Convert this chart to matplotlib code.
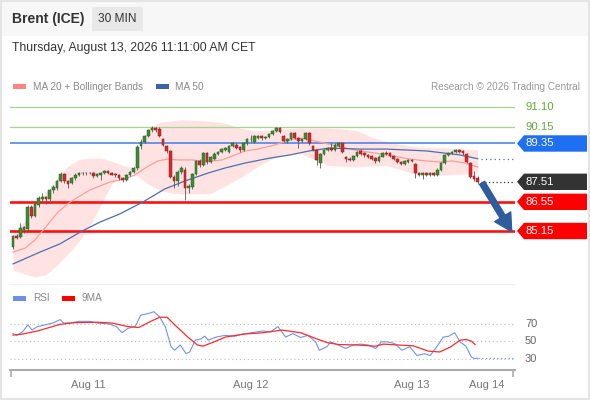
import numpy as np
import matplotlib
matplotlib.use("Agg")
import matplotlib.pyplot as plt
from matplotlib.patches import Rectangle, Polygon
from matplotlib.lines import Line2D
from matplotlib.transforms import blended_transform_factory

plt.rcParams['font.family'] = ['Liberation Sans', 'DejaVu Sans']

# ---------------- data ----------------
title = "Brent (ICE)"
timeframe = "30 MIN"
date_text = "Thursday, August 13, 2026 11:11:00 AM CET"
credit = "Research \u00a9 2026 Trading Central"

opens = [84.40, 84.92, 84.85, 85.20, 85.25, 86.30, 85.85, 86.40, 86.70, 86.78,
         86.68, 87.10, 87.22, 87.55, 87.88, 87.55, 87.45, 87.68, 87.85, 87.92,
         87.94, 87.91, 87.94, 87.80, 87.84, 87.93, 88.02, 87.95, 87.88, 87.84,
         87.68, 87.62, 87.85, 88.00, 88.15, 89.25, 89.40, 89.70, 89.98, 90.08,
         90.05, 89.55, 89.25, 89.00, 87.75, 87.55, 88.00, 88.10, 87.20, 87.25,
         87.90, 88.50, 88.30, 88.90, 88.45, 88.62, 88.85, 88.95, 89.05, 88.95,
         89.25, 89.30, 89.18, 89.05, 89.35, 89.55, 89.42, 89.60, 89.70, 89.60,
         89.68, 89.80, 89.95, 90.10, 89.72, 89.45, 89.55, 89.85, 89.60, 89.45,
         89.55, 89.85, 89.22, 89.05, 88.40, 88.85, 89.05, 89.15, 89.05, 89.25,
         89.35, 88.70, 88.60, 88.55, 88.75, 89.00, 88.90, 88.80, 88.75, 88.65,
         88.50, 88.72, 88.90, 88.90, 88.75, 88.62, 88.45, 88.35, 88.45, 88.55,
         88.35, 87.95, 87.85, 87.92, 87.85, 87.92, 87.82, 88.10, 88.40, 88.80,
         88.90, 88.95, 89.05, 89.00, 88.85, 88.40, 87.80, 87.70]
highs = [84.98, 85.00, 85.55, 85.40, 86.40, 86.40, 86.50, 86.85, 86.95, 86.85,
         87.15, 87.35, 87.62, 88.00, 87.92, 87.60, 87.75, 87.95, 87.97, 87.98,
         87.99, 87.98, 87.98, 87.92, 87.98, 88.06, 88.06, 88.00, 87.95, 87.88,
         87.74, 87.90, 88.05, 88.22, 89.30, 89.55, 89.75, 90.05, 90.20, 90.15,
         90.12, 89.62, 89.30, 89.05, 87.85, 88.10, 88.25, 88.20, 87.40, 87.95,
         88.55, 88.60, 88.95, 88.95, 88.75, 88.92, 89.00, 89.15, 89.18, 89.30,
         89.42, 89.36, 89.22, 89.40, 89.60, 89.75, 89.75, 89.78, 89.75, 89.72,
         89.85, 90.00, 90.15, 90.15, 89.78, 89.60, 89.90, 89.90, 89.65, 89.60,
         89.90, 89.90, 89.28, 89.10, 88.90, 89.10, 89.20, 89.35, 89.35, 89.40,
         89.38, 88.75, 88.68, 88.80, 89.00, 89.10, 88.95, 88.85, 88.80, 88.70,
         88.78, 88.95, 88.98, 88.94, 88.80, 88.66, 88.50, 88.55, 88.60, 88.62,
         88.40, 88.00, 88.00, 87.98, 88.00, 87.98, 88.15, 88.45, 88.85, 88.95,
         89.00, 89.10, 89.10, 89.05, 88.90, 88.45, 88.05, 87.78]
lows = [84.30, 84.75, 84.80, 85.05, 85.15, 85.75, 85.80, 86.30, 86.55, 86.45,
        86.60, 86.95, 87.10, 87.50, 87.45, 87.20, 87.40, 87.60, 87.78, 87.86,
        87.86, 87.87, 87.70, 87.76, 87.62, 87.88, 87.88, 87.82, 87.76, 87.62,
        87.50, 87.55, 87.80, 87.95, 88.10, 89.10, 89.35, 89.65, 89.90, 89.92,
        89.65, 89.22, 88.90, 87.70, 87.20, 87.30, 87.90, 86.65, 86.95, 87.15,
        87.85, 88.20, 88.25, 88.35, 88.40, 88.55, 88.78, 88.88, 88.98, 88.90,
        89.18, 89.08, 88.95, 89.00, 89.28, 89.40, 89.38, 89.55, 89.52, 89.55,
        89.62, 89.75, 89.90, 89.85, 89.40, 89.38, 89.50, 89.55, 89.15, 89.40,
        89.50, 89.30, 89.00, 88.30, 88.15, 88.80, 89.00, 89.00, 89.00, 89.20,
        88.90, 88.45, 88.50, 88.50, 88.70, 88.80, 88.70, 88.65, 88.55, 88.42,
        88.45, 88.68, 88.80, 88.70, 88.55, 88.40, 88.30, 88.30, 88.40, 88.45,
        87.70, 87.80, 87.65, 87.80, 87.80, 87.80, 87.78, 88.05, 88.35, 88.75,
        88.85, 88.90, 88.88, 88.80, 88.40, 87.70, 87.55, 87.40]
closes = [84.92, 84.82, 85.30, 85.32, 86.30, 85.85, 86.45, 86.72, 86.78, 86.68,
          87.10, 87.25, 87.55, 87.88, 87.55, 87.42, 87.68, 87.85, 87.92, 87.94,
          87.91, 87.94, 87.80, 87.88, 87.93, 88.02, 87.95, 87.86, 87.82, 87.68,
          87.60, 87.85, 88.00, 88.15, 89.20, 89.40, 89.70, 90.00, 90.08, 89.98,
          89.72, 89.30, 89.00, 87.75, 87.55, 88.00, 88.15, 87.20, 87.30, 87.90,
          88.50, 88.30, 88.90, 88.45, 88.70, 88.85, 88.95, 89.10, 89.12, 89.25,
          89.35, 89.15, 89.05, 89.35, 89.55, 89.56, 89.70, 89.70, 89.60, 89.68,
          89.80, 89.95, 90.10, 89.90, 89.45, 89.55, 89.85, 89.60, 89.45, 89.55,
          89.85, 89.35, 89.05, 88.55, 88.85, 89.05, 89.15, 89.05, 89.30, 89.35,
          88.95, 88.60, 88.55, 88.75, 88.95, 88.85, 88.78, 88.70, 88.60, 88.50,
          88.72, 88.90, 88.86, 88.75, 88.60, 88.45, 88.35, 88.50, 88.55, 88.50,
          87.95, 87.85, 87.95, 87.85, 87.95, 87.86, 88.10, 88.40, 88.80, 88.90,
          88.95, 89.05, 88.95, 88.90, 88.45, 87.75, 87.65, 87.51]

ma20_idx = [0, 3.3, 6.0, 8.7, 12.3, 15.6, 18.3, 21.0, 23.8, 26.5, 30.6, 33.3, 36.1,
            39.6, 42.3, 45.1, 48.9, 51.6, 54.4, 57.1, 60.7, 63.4, 66.9, 71.6, 75.7,
            79.0, 82.5, 87.2, 93.4, 98.9, 103.8, 108.5, 113.1, 116.7, 120.2, 123.5, 127]
ma20_val = [84.14, 84.33, 84.72, 85.29, 86.06, 86.54, 86.83, 87.12, 87.31, 87.50,
            87.65, 87.84, 88.17, 88.51, 88.60, 88.56, 88.56, 88.51, 88.51, 88.56,
            88.80, 88.99, 89.08, 89.28, 89.52, 89.61, 89.47, 89.28, 89.04, 88.89,
            88.75, 88.60, 88.51, 88.46, 88.51, 88.41, 88.22]

ma50_idx = [0, 7.4, 12.8, 18.9, 23.8, 29.2, 35.5, 41.5, 47.0, 53.3, 57.9, 63.4,
            70.2, 75.7, 80.9, 86.6, 94.8, 102.2, 113.1, 122.1, 127]
ma50_val = [83.57, 84.14, 84.53, 85.15, 85.58, 85.97, 86.54, 87.17, 87.55, 87.93,
            88.17, 88.41, 88.65, 88.80, 88.99, 89.13, 89.08, 89.08, 88.99, 88.80, 88.62]

bb_idx = [0, 3, 6, 9, 12, 15, 18, 21, 24, 27, 30, 33, 35, 37, 40, 43, 46, 50, 54,
          58, 62, 66, 70, 74, 78, 82, 86, 90, 94, 98, 102, 106, 110, 114, 118, 122, 127]
bb_upper = [85.05, 85.60, 86.30, 87.00, 87.70, 88.25, 88.58, 88.65, 88.65, 88.50,
            88.30, 88.20, 89.20, 90.05, 90.36, 90.43, 90.48, 90.46, 90.42, 90.32,
            90.09, 89.96, 89.99, 90.05, 90.09, 90.09, 90.09, 90.05, 89.97, 89.65,
            89.45, 89.30, 89.20, 89.15, 89.13, 89.10, 89.04]
bb_lower = [83.28, 83.10, 82.95, 83.05, 83.50, 84.05, 84.65, 85.40, 86.40, 87.40,
            87.80, 87.93, 87.65, 87.40, 87.10, 86.98, 86.93, 86.93, 86.95, 87.32,
            87.70, 88.15, 88.55, 88.78, 88.93, 88.60, 88.30, 88.26, 88.22, 88.27,
            88.30, 88.10, 87.86, 87.84, 87.84, 87.88, 87.93]

resistances = [91.10, 90.15, 89.35]
supports = [86.55, 85.15]
last_price = 87.51

rsi_idx = [0, 1.1, 2.6, 4.1, 5.2, 6.7, 8.8, 10.8, 12.9, 13.9, 16, 18, 21.1, 23.1,
           26.2, 28.3, 29.8, 31.4, 33.4, 34.9, 37, 38.5, 40.1, 41.6, 43.2, 44.2,
           45.7, 47.3, 48.3, 49.8, 51.4, 52.4, 53.4, 55.5, 58, 60.6, 62.7, 65.2,
           68.3, 70.4, 72.4, 74.5, 76.5, 78.6, 80.6, 82.7, 83.7, 85.8, 86.8, 88.9,
           90.9, 93, 95, 97.1, 99.1, 100.7, 102.2, 104.3, 106.3, 108.4, 110.4,
           112.5, 114, 115.5, 117.6, 119.1, 120.7, 122.2, 123.8, 125.3, 126.3, 127]
rsi_val = [59, 57, 61, 69, 63, 67, 69, 71, 75, 71, 71.5, 73, 73, 71, 70, 67, 60,
           65, 67, 80, 82, 84, 78, 67, 44, 40, 46, 36, 38, 51.5, 53, 56, 51.5, 55,
           57, 56, 58.5, 60, 62, 61, 67, 55, 59, 54.5, 57, 49.6, 40, 44, 49.6, 46,
           42, 46, 47, 46, 42, 49.6, 49.6, 47.7, 40, 44, 34, 36, 34, 42, 55, 56,
           60, 49.6, 44.6, 32, 30.4, 31]

rsi_ma_idx = [0, 2.6, 6.7, 10.8, 12.9, 17.0, 23.1, 27.2, 31.4, 34.4, 37.5, 40.1,
              42.1, 44.7, 47.8, 50.4, 51.9, 55.0, 58.0, 63.2, 68.3, 73.5, 78.6,
              82.7, 85.8, 88.9, 94.0, 99.1, 101.2, 105.3, 109.4, 113.5, 116.6,
              119.7, 122.2, 123.8, 125.3, 126.3]
rsi_ma_val = [57.3, 58.5, 62, 67, 69.6, 71.5, 72, 71, 67, 66, 72.7, 77.7, 77.7, 67,
              55, 46, 44.6, 49.6, 55, 58.5, 60, 63, 60, 53.5, 48.8, 46.5, 46, 44.6,
              47, 46, 45, 39, 38, 44, 51.5, 52.3, 50.4, 46.5]
rsi_levels = [70, 50, 30]

tick_idx = [20.5, 65.0, 109.0, 129.5]
tick_labels = ["Aug 11", "Aug 12", "Aug 13", "Aug 14"]

# ---------------- figure ----------------
W, H = 590, 400
fig = plt.figure(figsize=(W / 100, H / 100), dpi=100)
fig.patch.set_facecolor("white")


def prect(l, t, r, b):
    return [l / W, 1 - b / H, (r - l) / W, (b - t) / H]


def P(x, y):
    return (x / W, 1 - y / H)


# header background + frame
fig.add_artist(Rectangle(P(0, 36), 1, 36 / H, transform=fig.transFigure,
                         facecolor="#f7f7f7", edgecolor="none", zorder=0))
fig.add_artist(Rectangle(P(92, 31), 51 / W, 24 / H, transform=fig.transFigure,
                         facecolor="#e8e8e8", edgecolor="none", zorder=1))
fig.add_artist(Rectangle((0.001, 0.002), 0.997, 0.996, transform=fig.transFigure,
                         fill=False, edgecolor="#e4e4e4", lw=1.5, zorder=10))

fig.text(*P(12, 19), title, fontsize=10, fontweight="bold", color="#333333",
         va="center", ha="left")
fig.text(*P(117.5, 19), timeframe, fontsize=8.6, color="#333333", va="center", ha="center")
fig.text(*P(12, 48), date_text, fontsize=8.8, color="#333333", va="center", ha="left")

# legend of main chart
LEG_FS = 7.2
fig.add_artist(Rectangle(P(13, 89), 13 / W, 5 / H, transform=fig.transFigure,
                         facecolor="#ff8585", edgecolor="none"))
fig.text(*P(33, 86.5), "MA 20 + Bollinger Bands", fontsize=LEG_FS, color="#888888",
         va="center", ha="left")
fig.add_artist(Rectangle(P(156, 89), 13 / W, 5 / H, transform=fig.transFigure,
                         facecolor="#3a64a6", edgecolor="none"))
fig.text(*P(175, 86.5), "MA 50", fontsize=LEG_FS, color="#888888", va="center", ha="left")
fig.text(*P(580, 86.5), credit, fontsize=LEG_FS, color="#999999", va="center", ha="right")

# ---------------- main price axes ----------------
XL = (-0.82, 137.2)
YL = (82.655, 91.58)
ax = fig.add_axes(prect(10, 97, 515, 283))
ax.set_xlim(*XL)
ax.set_ylim(*YL)
ax.axis("off")

ax.fill_between(bb_idx, bb_lower, bb_upper, color="#ffe3e3", lw=0, zorder=1)

level_green = "#a6d38f"
ax.axhline(resistances[0], color=level_green, lw=0.9, zorder=2)
ax.axhline(resistances[1], color=level_green, lw=0.9, zorder=2)
ax.axhline(resistances[2], color="#4f86ec", lw=1.2, zorder=2)
for s in supports:
    ax.axhline(s, color="#ff1010", lw=1.9, zorder=2)

ax.plot(ma20_idx, ma20_val, color="#ff9c9c", lw=0.9, zorder=3)
ax.plot(ma50_idx, ma50_val, color="#4a6fae", lw=0.9, zorder=3)

o = np.array(opens)
h = np.array(highs)
l = np.array(lows)
c = np.array(closes)
idx = np.arange(len(c))
up = c >= o
body_bot = np.minimum(o, c)
body_h = np.maximum(np.abs(c - o), 0.03)
ax.vlines(idx, l, h, color="#555555", lw=0.6, zorder=4)
ax.bar(idx, body_h, bottom=body_bot, width=0.72,
       color=np.where(up, "#3d8b37", "#d42a2a"),
       edgecolor=np.where(up, "#24601f", "#8e1c1c"), lw=0.35, zorder=5)

# dotted extensions
ax.hlines(last_price, idx[-1] + 0.8, XL[1], color="#333333", lw=0.9,
          linestyles=(0, (1, 2)), zorder=3)
ax.hlines(ma50_val[-1], idx[-1] + 0.8, XL[1], color="#4a6fae", lw=0.9,
          linestyles=(0, (1, 2.5)), zorder=3)

# forecast arrow
ax.annotate("", xy=(idx[-1] + 9.3, supports[1] - 0.03), xytext=(idx[-1] + 1.2, last_price - 0.05),
            arrowprops=dict(arrowstyle="simple,head_width=1.35,head_length=1.25,tail_width=0.42",
                            color="#2e5c9c", mutation_scale=10, shrinkA=0, shrinkB=0),
            zorder=6)

# ---------------- price tags ----------------
axl = fig.add_axes(prect(515, 97, 590, 283))
axl.set_xlim(515, 590)
axl.set_ylim(*YL)
axl.axis("off")
hh = 8.2 / 20.84


def tag(price, color):
    axl.add_patch(Polygon([(517, price), (524, price + hh), (587, price + hh),
                           (587, price - hh), (524, price - hh)], closed=True,
                          facecolor=color, edgecolor="none"))
    axl.text(525, price, f"{price:.2f}", color="white", fontsize=8.2, va="center", ha="left")


for r in resistances[:2]:
    axl.text(525, r, f"{r:.2f}", color="#62ab35", fontsize=8.2, va="center", ha="left")
tag(resistances[2], "#1f6ff2")
tag(last_price, "#333333")
for s in supports:
    tag(s, "#ff0000")

# separator
fig.add_artist(Line2D([10 / W, 515 / W], [1 - 284 / H] * 2, transform=fig.transFigure,
                      color="#eeeeee", lw=0.8))

# ---------------- RSI panel ----------------
fig.add_artist(Rectangle(P(13, 300.5), 13 / W, 5 / H, transform=fig.transFigure,
                         facecolor="#6d8fe8", edgecolor="none"))
fig.text(*P(33, 298), "RSI", fontsize=LEG_FS, color="#888888", va="center", ha="left")
fig.add_artist(Rectangle(P(62, 300.5), 13 / W, 5 / H, transform=fig.transFigure,
                         facecolor="#ff0000", edgecolor="none"))
fig.text(*P(82, 298), "9MA", fontsize=LEG_FS, color="#888888", va="center", ha="left")

axr = fig.add_axes(prect(10, 300, 515, 370))
axr.set_xlim(*XL)
axr.set_ylim(17.4, 97.4)
for side in ["top", "right", "left"]:
    axr.spines[side].set_visible(False)
axr.spines["bottom"].set_color("#aaaaaa")
axr.spines["bottom"].set_linewidth(1.5)
axr.set_yticks([])
axr.set_xticks(tick_idx)
axr.set_xticklabels(tick_labels, fontsize=8, color="#777777")
axr.tick_params(axis="x", which="major", length=0, pad=7)
axr.set_xticks([XL[0] + 0.2, XL[1] - 0.5], minor=True)
axr.tick_params(axis="x", which="minor", length=5, width=1.2, color="#aaaaaa", direction="out")
axr.patch.set_alpha(0)

for v in rsi_levels:
    axr.axhline(v, color="#bbbbbb", lw=0.8, ls=(0, (1, 2.5)), zorder=1)
trans = blended_transform_factory(fig.transFigure, axr.transData)
for v in rsi_levels:
    fig.text(525 / W, v, str(v), transform=trans, fontsize=8, color="#666666",
             va="center", ha="left")

axr.plot(rsi_idx, rsi_val, color="#7094ea", lw=0.8, zorder=3)
axr.plot(rsi_ma_idx, rsi_ma_val, color="#ff2a2a", lw=0.9, zorder=4)
axr.hlines(rsi_val[-1], rsi_idx[-1], XL[1], color="#7094ea", lw=0.9,
           linestyles=(0, (1, 2)), zorder=2)

fig.savefig("out.png", dpi=100)
